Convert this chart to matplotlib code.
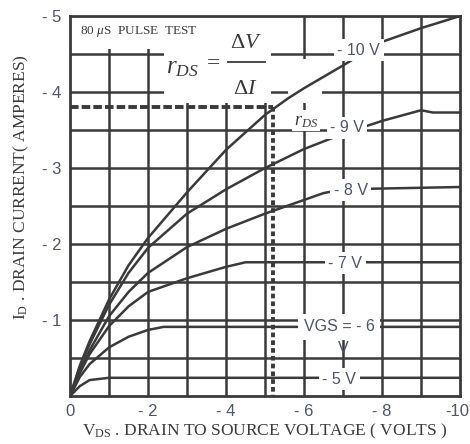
import matplotlib.pyplot as plt
from matplotlib.patches import Rectangle
from matplotlib.transforms import offset_copy

plt.rcParams['mathtext.fontset'] = 'custom'
plt.rcParams['mathtext.rm'] = 'Liberation Serif'
plt.rcParams['mathtext.it'] = 'Liberation Serif:italic'

INK = '#3a3a3a'
TXT = '#4f5566'

# output characteristics (V_DS volts, I_D amperes)
vds_5 = [0, -0.25, -0.5, -1.0, -10]
id_5 = [0, -0.13, -0.21, -0.24, -0.24]
vds_6 = [0, -0.25, -0.5, -1.0, -1.5, -2.0, -2.4, -10]
id_6 = [0, -0.25, -0.42, -0.64, -0.78, -0.87, -0.91, -0.91]
vds_7 = [0, -0.25, -0.5, -1.0, -1.5, -2.0, -3.0, -4.0, -4.5, -10]
id_7 = [0, -0.30, -0.55, -0.92, -1.18, -1.37, -1.55, -1.70, -1.76, -1.76]
vds_8 = [0, -0.25, -0.5, -1.0, -1.5, -2.0, -3.0, -4.0, -5.0, -6.0, -6.5, -7.0, -10]
id_8 = [0, -0.33, -0.60, -1.05, -1.37, -1.62, -1.96, -2.20, -2.40, -2.58, -2.67, -2.72, -2.75]
vds_9 = [0, -0.25, -0.5, -1.0, -1.5, -2.0, -3.0, -4.0, -5.0, -6.0, -7.0, -8.0, -9.0, -9.3, -10]
id_9 = [0, -0.38, -0.68, -1.20, -1.62, -1.95, -2.40, -2.72, -3.00, -3.25, -3.45, -3.62, -3.76, -3.73, -3.73]
vds_10 = [0, -0.25, -0.5, -1.0, -1.5, -2.0, -3.0, -4.0, -5.0, -5.6, -6.0, -7.0, -8.0, -9.0, -10]
id_10 = [0, -0.40, -0.72, -1.27, -1.72, -2.08, -2.68, -3.24, -3.70, -3.92, -4.05, -4.35, -4.66, -4.84, -5.0]

curves = [(vds_5, id_5), (vds_6, id_6), (vds_7, id_7),
          (vds_8, id_8), (vds_9, id_9), (vds_10, id_10)]

q_vds = -5.2
q_id = -3.8

x_ticks = [0, -2, -4, -6, -8, -10]
x_tick_labels = ['0', '- 2', '- 4', '- 6', '- 8', '-10']
y_ticks = [-1, -2, -3, -4, -5]
y_tick_labels = ['- 1', '- 2', '- 3', '- 4', '- 5']
grid_x = [-1, -2, -3, -4, -5, -6, -7, -8, -9]
grid_y = [-0.5, -1, -1.5, -2, -2.5, -3, -3.5, -4, -4.5]

fig = plt.figure(figsize=(4.7, 4.44), dpi=100)
ax = fig.add_axes([0.149, 0.108, 0.83, 0.856])
ax.set_xlim(0, -10)
ax.set_ylim(0, -5)

ax.hlines(grid_y, 0, -10, color=INK, lw=1.8, zorder=1)
ax.vlines(grid_x, 0, -5, color=INK, lw=1.8, zorder=1)

# blank areas of the original grid (title and formula)
for xy, w, h in [((0, -4.56), -5.9, -0.5),
                 ((-2.4, -3.86), -2.75, -0.7),
                 ((-5.6, -3.86), -0.85, -0.58)]:
    ax.add_patch(Rectangle(xy, w, h, facecolor='white', edgecolor='none', zorder=2))

for v, i in curves:
    ax.plot(v, i, color=INK, lw=1.8, zorder=3)

ax.plot([0, q_vds], [q_id, q_id], color=INK, lw=2.8, ls=(0, (2.2, 0.8)), zorder=4)
ax.plot([q_vds, q_vds], [q_id, 0], color=INK, lw=2.8, ls=(0, (1.2, 0.8)), zorder=4)

box = dict(facecolor='white', edgecolor='none', pad=2.5)
lab = dict(color=TXT, fontsize=11.5, family='Liberation Sans', ha='center', va='center', zorder=5)
ax.text(-7.4, -4.55, '- 10 V', bbox=box, **lab)
ax.text(-7.1, -3.53, '- 9 V', bbox=box, **lab)
ax.text(-7.2, -2.71, '- 8 V', bbox=box, **lab)
ax.text(-7.05, -1.75, '- 7 V', bbox=box, **lab)
ax.text(-6.9, -0.91, 'VGS = - 6', bbox=dict(facecolor='white', edgecolor='none', pad=4), **lab)
ax.text(-7.0, -0.62, 'V', **lab)
ax.text(-6.9, -0.22, '- 5 V', bbox=box, **lab)

ax.text(-0.25, -4.8, '80 $\\mu$S  PULSE  TEST', fontsize=9.5, family='Liberation Serif',
        color=INK, va='center', zorder=5)
ax.text(-2.45, -4.33, '$r_{DS}$', fontsize=18, color=INK, va='center', zorder=5)
ax.text(-3.5, -4.38, '=', fontsize=17, color=INK, family='Liberation Serif', va='center', zorder=5)
ax.plot([-4.05, -5.0], [-4.4, -4.4], color=INK, lw=1.3, zorder=5)
ax.text(-4.5, -4.66, '$\\Delta V$', fontsize=16, color=INK, ha='center', va='center', zorder=5)
ax.text(-4.5, -4.05, '$\\Delta I$', fontsize=16, color=INK, ha='center', va='center', zorder=5)
ax.text(-6.05, -3.62, '$r_{DS}$', fontsize=13, color=INK, ha='center', va='center',
        bbox=dict(facecolor='white', edgecolor='none', pad=1), zorder=5)

ax.set_xticks(x_ticks)
ax.set_xticklabels(x_tick_labels)
ax.set_yticks(y_ticks)
ax.set_yticklabels(y_tick_labels)
ax.tick_params(length=0, labelsize=12, labelcolor=TXT, pad=6)
for t in ax.get_xticklabels() + ax.get_yticklabels():
    t.set_family('Liberation Sans')
last = ax.get_xticklabels()[-1]
last.set_horizontalalignment('right')
last.set_transform(offset_copy(last.get_transform(), fig=fig, x=9, units='dots'))
for s in ax.spines.values():
    s.set_linewidth(2)
    s.set_color(INK)
    s.set_zorder(6)

ax.set_xlabel('$\\mathrm{V_{DS}}$ . DRAIN TO SOURCE VOLTAGE ( VOLTS )', fontsize=12.5,
              family='Liberation Serif', color=INK, labelpad=2)
ax.set_ylabel('$\\mathrm{I_{D}}$ . DRAIN CURRENT( AMPERES)', fontsize=12.5,
              family='Liberation Serif', color=INK)
ax.yaxis.set_label_coords(-0.10, 0.55)

fig.savefig('out.png', dpi=100)
